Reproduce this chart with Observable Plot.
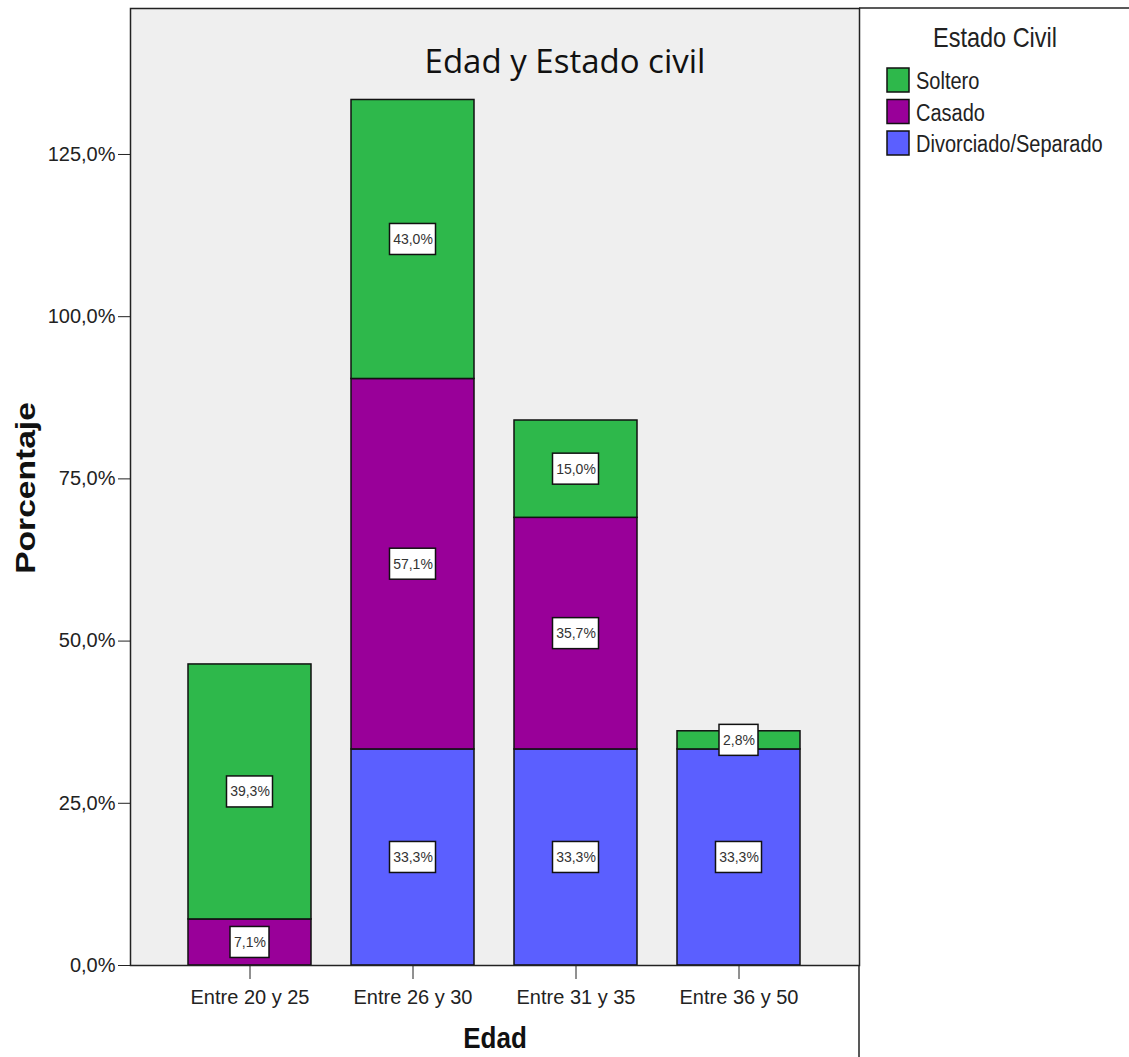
<!DOCTYPE html>
<html>
<head>
<meta charset="utf-8">
<script src="https://cdn.jsdelivr.net/npm/d3@7"></script>
<script src="https://cdn.jsdelivr.net/npm/@observablehq/plot@0.6"></script>
<style>
  body { margin: 0; background: #fff; }
  #chart { position: relative; width: 1129px; height: 1057px; overflow: hidden; }
  #chart > svg { position: absolute; left: 0; top: 0; }
</style>
</head>
<body>
<div id="chart"></div>
<script>
// Age groups (x categories)
const ageGroups = ["Entre 20 y 25", "Entre 26 y 30", "Entre 31 y 35", "Entre 36 y 50"];
// Marital status, in legend order, and in stacking order (bottom to top)
const statusLegend = ["Soltero", "Casado", "Divorciado/Separado"];
const statusStack = ["Divorciado/Separado", "Casado", "Soltero"];
const statusColors = ["#2eb84b", "#990099", "#5b5fff"];
// Percentages per age group
const soltero = [39.3, 43.0, 15.0, 2.8];
const casado = [7.1, 57.1, 35.7, 0];
const divorciado = [0, 33.3, 33.3, 33.3];
// Y axis ticks
const yTicks = [0, 25, 50, 75, 100, 125];

const fmt = v => v.toFixed(1).replace(".", ",") + "%";
const seriesByStatus = {"Soltero": soltero, "Casado": casado, "Divorciado/Separado": divorciado};

// Stack the segments per age group
const rows = [];
ageGroups.forEach((age, i) => {
  let base = 0;
  for (const s of statusStack) {
    const v = seriesByStatus[s][i];
    if (v > 0) {
      rows.push({age, status: s, value: v, y1: base, y2: base + v, mid: base + v / 2, label: fmt(v)});
      base += v;
    }
  }
});

const sans = "'Liberation Sans', Arial, sans-serif";
const bandwidth = 124;
// White boxes behind the segment labels, sized by label length
const boxMarks = [[4, 40], [5, 47]].map(([n, w]) => {
  const inset = (bandwidth - w) / 2;
  return Plot.barY(rows.filter(d => d.label.length === n), {
    x: "age", y1: "mid", y2: "mid",
    insetLeft: inset, insetRight: inset, insetTop: -15.5, insetBottom: -15.5,
    fill: "#fff", stroke: "#111", strokeWidth: 1.5
  });
});

const plot = Plot.plot({
  width: 1129,
  height: 1057,
  marginTop: 8,
  marginBottom: 92,
  marginLeft: 130,
  marginRight: 270,
  style: {fontFamily: sans, fontSize: "20px", color: "#222", background: "transparent"},
  x: {domain: ageGroups, paddingInner: 0.244, paddingOuter: 0.345, tickSize: 14, tickPadding: 10, label: null},
  y: {domain: [0, 147.5], ticks: yTicks, tickFormat: fmt, tickSize: 12, tickPadding: 3, label: null},
  color: {domain: statusLegend, range: statusColors},
  marks: [
    Plot.frame({fill: "#efefef", stroke: "none"}),
    Plot.barY(rows, {x: "age", y1: "y1", y2: "y2", fill: "status", stroke: "#111", strokeWidth: 1.5}),
    ...boxMarks,
    Plot.text(rows, {x: "age", y: "mid", text: "label", fontSize: 14, fill: "#333"}),
    Plot.frame({stroke: "#222", strokeWidth: 1.5})
  ]
});

const chart = document.getElementById("chart");
chart.appendChild(plot);

// Titles, legend and outer rules
const svg = d3.select(chart).append("svg")
  .attr("width", 1129).attr("height", 1057)
  .style("pointer-events", "none");

svg.append("line").attr("x1", 859).attr("x2", 1129).attr("y1", 8).attr("y2", 8)
  .attr("stroke", "#222").attr("stroke-width", 1.5);
svg.append("line").attr("x1", 859).attr("x2", 859).attr("y1", 965).attr("y2", 1057)
  .attr("stroke", "#222").attr("stroke-width", 1.5);

svg.append("text").text("Edad y Estado civil")
  .attr("x", 565).attr("y", 73).attr("text-anchor", "middle")
  .attr("font-family", "'Open Sans', 'Noto Sans', sans-serif").attr("font-size", 33).attr("fill", "#111");

svg.append("text").text("Edad")
  .attr("transform", "translate(495,1048) scale(1,1.15)").attr("text-anchor", "middle")
  .attr("font-family", sans).attr("font-weight", "bold")
  .attr("font-size", 26).attr("fill", "#111");

svg.append("text").text("Porcentaje")
  .attr("transform", "translate(35,488) rotate(-90) scale(1.2,1)").attr("text-anchor", "middle")
  .attr("font-family", sans).attr("font-weight", "bold")
  .attr("font-size", 28).attr("fill", "#111");

svg.append("text").text("Estado Civil")
  .attr("transform", "translate(995,47) scale(1,1.15)").attr("text-anchor", "middle")
  .attr("font-family", sans).attr("font-size", 23.5).attr("fill", "#222");

const legend = svg.append("g");
statusLegend.forEach((s, i) => {
  const top = 68 + i * 31.5;
  legend.append("rect").attr("x", 887).attr("y", top).attr("width", 22).attr("height", 24)
    .attr("fill", statusColors[i]).attr("stroke", "#111").attr("stroke-width", 1.5);
  legend.append("text").text(s)
    .attr("transform", `translate(916,${top + 21}) scale(1,1.15)`)
    .attr("font-family", sans).attr("font-size", 20).attr("fill", "#222");
});
</script>
</body>
</html>
